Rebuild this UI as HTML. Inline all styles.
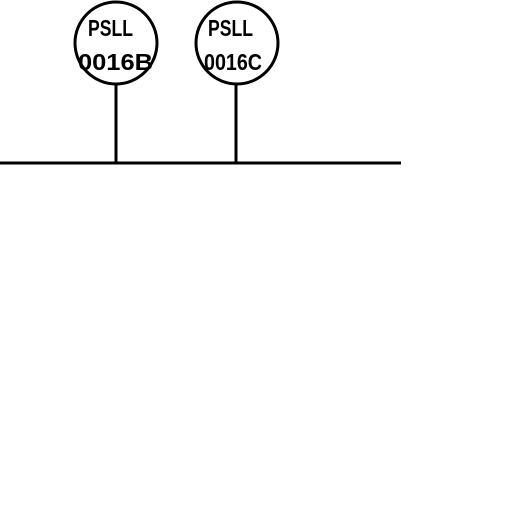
<!DOCTYPE html>
<html><head><style>body{margin:0;background:#fff}</style></head><body>
<svg width="512" height="512" style="display:block">
<line x1="0" y1="163" x2="401" y2="163" stroke="#000" stroke-width="3"/>
<g>
<line x1="116" y1="83" x2="116" y2="163" stroke="#000" stroke-width="3"/>
<circle cx="116" cy="43" r="41" fill="#fff" stroke="#000" stroke-width="3"/>
<text x="88" y="36" font-family="Liberation Sans, sans-serif" font-weight="bold" font-size="23" textLength="45" lengthAdjust="spacingAndGlyphs">PSLL</text>
<text x="78" y="70" font-family="Liberation Sans, sans-serif" font-weight="bold" font-size="23" textLength="75" lengthAdjust="spacingAndGlyphs">0016B</text>
</g>
<g>
<line x1="236" y1="83" x2="236" y2="163" stroke="#000" stroke-width="3"/>
<circle cx="237" cy="43" r="41" fill="#fff" stroke="#000" stroke-width="3"/>
<text x="208" y="36" font-family="Liberation Sans, sans-serif" font-weight="bold" font-size="23" textLength="45" lengthAdjust="spacingAndGlyphs">PSLL</text>
<text x="204" y="70" font-family="Liberation Sans, sans-serif" font-weight="bold" font-size="23" textLength="58" lengthAdjust="spacingAndGlyphs">0016C</text>
</g>
</svg>
</body></html>
